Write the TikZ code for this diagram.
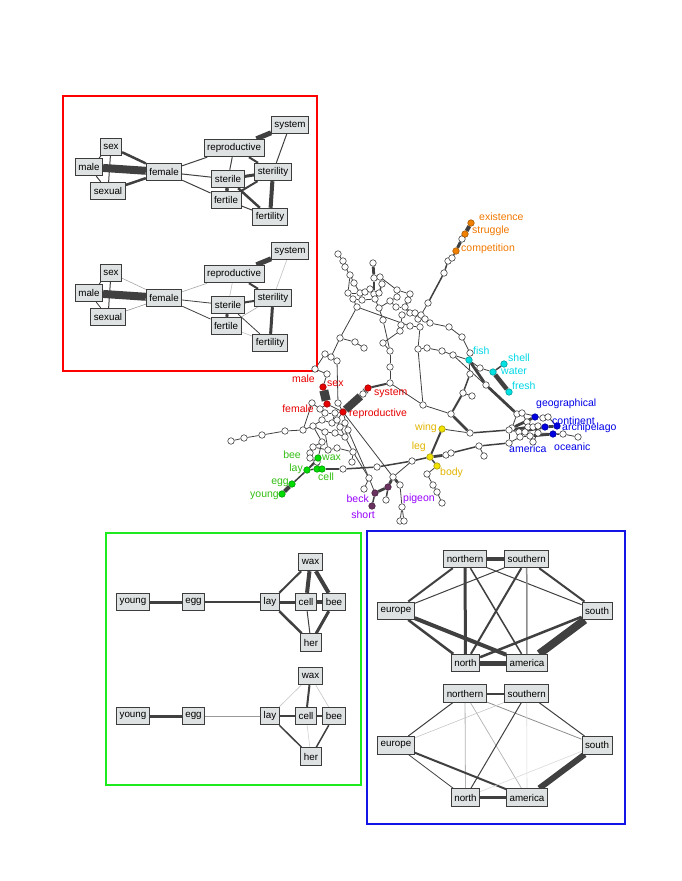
\documentclass[tikz,border=0pt]{standalone}
\usepackage{fontspec}
\setmainfont{Liberation Sans}
\usetikzlibrary{backgrounds, positioning}

\definecolor{boxfill}{RGB}{222,226,226}
\definecolor{boxline}{RGB}{60,60,60}
\definecolor{edgec}{RGB}{64,64,64}
\definecolor{redc}{RGB}{230,0,0}
\definecolor{orangec}{RGB}{240,120,0}
\definecolor{greenc}{RGB}{50,190,20}
\definecolor{goldc}{RGB}{225,180,0}
\definecolor{cyanc}{RGB}{0,215,230}
\definecolor{bluec}{RGB}{0,0,230}
\definecolor{purplec}{RGB}{150,0,255}
\definecolor{dotred}{RGB}{230,0,0}
\definecolor{dotorange}{RGB}{240,128,0}
\definecolor{dotgreen}{RGB}{0,220,0}
\definecolor{dotyellow}{RGB}{240,225,0}
\definecolor{dotcyan}{RGB}{0,225,225}
\definecolor{dotblue}{RGB}{0,0,225}
\definecolor{dotpurple}{RGB}{105,50,95}

\begin{document}
\begin{tikzpicture}[x=1pt, y=-1pt,
      wbox/.style={draw=boxline, fill=boxfill, line width=0.9pt, inner xsep=3pt,
                   minimum height=17.5pt, font=\fontsize{9.8}{10}\selectfont},
      dot/.style={circle, draw=edgec, fill=white, line width=0.6pt, inner sep=0pt, minimum size=6.5pt},
      cdot/.style={dot, fill=#1, draw=#1!70!black},
      lab/.style={text=#1, inner sep=0pt, font=\fontsize{10.5}{12}\selectfont},
      edge/.style={draw=edgec}]

    \useasboundingbox (0,0) rectangle (681,881);

    % === frames ===
    \draw[red, line width=2pt] (63,96) rectangle (317,371);
    \draw[green!90!black!70!green, draw={rgb,255:red,30;green,235;blue,30}, line width=2pt] (106,533) rectangle (361,785);
    \draw[draw={rgb,255:red,20;green,20;blue,230}, line width=2pt] (367,531) rectangle (625,824);

    % === sex / female / fertility (two copies) ===
    \foreach \k/\dy in {t/0, b/126} {
      \node[wbox] (\k sex) at (111,147+\dy) {sex};
      \node[wbox] (\k male) at (89,167+\dy) {male};
      \node[wbox] (\k sexual) at (108,191+\dy) {sexual};
      \node[wbox] (\k female) at (164,172+\dy) {female};
      \node[wbox] (\k repro) at (234,148+\dy) {reproductive};
      \node[wbox] (\k system) at (290,125+\dy) {system};
      \node[wbox] (\k sterile) at (228,179+\dy) {sterile};
      \node[wbox] (\k sterility) at (273,172+\dy) {sterility};
      \node[wbox] (\k fertile) at (226,200+\dy) {fertile};
      \node[wbox] (\k fertility) at (270,217+\dy) {fertility};
    }
    \begin{scope}[on background layer]
      \foreach \a/\b/\w/\c in {male/female/8/edgec, sex/female/2.5/edgec, sexual/female/2.5/edgec,
          sex/sexual/1/edgec, male/sex/1/edgec, male/sexual/1/edgec, female/repro/1/edgec,
          female/sterile/1/edgec, female/fertile/1/edgec, repro/system/5/edgec, repro/sterile/1/edgec,
          repro/sterility/2/edgec, system/sterility/1/edgec, sterile/sterility/3/edgec,
          sterile/fertile/3.5/edgec, sterile/fertility/2.5/edgec, fertile/sterility/2/edgec,
          fertile/fertility/1/edgec, sterility/fertility/4/edgec}
        \draw[line width=\w pt, draw=\c] (t\a) -- (t\b);
      \foreach \a/\b/\w/\c in {male/female/8/edgec, sex/female/0.6/gray!70, sexual/female/0.6/gray!80,
          sex/sexual/1/edgec, male/sex/0.8/edgec, male/sexual/0.8/edgec, female/repro/0.6/gray!70,
          female/sterile/0.8/edgec, female/fertile/0.8/edgec, repro/system/5/edgec, repro/sterile/0.6/gray!50,
          repro/sterility/2/edgec, system/sterility/0.6/gray!50, sterile/sterility/2/edgec,
          sterile/fertile/3/edgec, sterile/fertility/0.8/edgec, fertile/sterility/0.6/gray!70,
          fertile/fertility/0.6/gray!50, sterility/fertility/3/edgec}
        \draw[line width=\w pt, draw=\c] (b\a) -- (b\b);
    \end{scope}

    % === young / egg / bee (two copies) ===
    \foreach \k/\dy in {t/0, b/114} {
      \node[wbox] (\k young) at (133,602+\dy) {young};
      \node[wbox] (\k egg) at (193.5,602+\dy) {egg};
      \node[wbox] (\k lay) at (270,602+\dy) {lay};
      \node[wbox] (\k cell) at (306,602+\dy) {cell};
      \node[wbox] (\k bee) at (334,602+\dy) {bee};
      \node[wbox] (\k wax) at (310.5,562+\dy) {wax};
      \node[wbox] (\k her) at (311,642.5+\dy) {her};
    }
    \begin{scope}[on background layer]
      \foreach \a/\b/\w/\c in {young/egg/3/edgec, egg/lay/1.2/edgec, lay/cell/3/edgec, cell/bee/3.5/edgec,
          lay/wax/2/edgec, lay/her/2.5/edgec, wax/cell/4/edgec, wax/bee/4/edgec, cell/her/1/edgec,
          bee/her/3/edgec}
        \draw[line width=\w pt, draw=\c] (t\a) -- (t\b);
      \foreach \a/\b/\w/\c in {young/egg/3/edgec, egg/lay/0.8/gray!80, lay/cell/1.2/edgec, cell/bee/1.5/edgec,
          lay/wax/0.6/gray!45, lay/her/1.5/edgec, wax/cell/2/edgec, wax/bee/0.6/gray!45,
          cell/her/0.6/gray!35, bee/her/1.5/edgec}
        \draw[line width=\w pt, draw=\c] (b\a) -- (b\b);
    \end{scope}

    % === north / south / america (two copies) ===
    \foreach \k/\dy in {t/0, b/134.5} {
      \node[wbox] (\k northern) at (465,559+\dy) {northern};
      \node[wbox] (\k southern) at (526.7,559+\dy) {southern};
      \node[wbox] (\k europe) at (396,610.7+\dy) {europe};
      \node[wbox] (\k south) at (597,610.7+\dy) {south};
      \node[wbox] (\k north) at (465.5,663+\dy) {north};
      \node[wbox] (\k america) at (527,663+\dy) {america};
    }
    \begin{scope}[on background layer]
      \foreach \a/\b/\w/\c in {northern/southern/4/edgec, northern/europe/2/edgec, northern/north/3/edgec,
          northern/america/1.5/edgec, northern/south/1/edgec, southern/europe/1/edgec,
          southern/north/2/edgec, southern/america/1.5/gray!90, southern/south/2/edgec,
          europe/north/2.5/edgec, europe/america/4/edgec, north/south/2.5/edgec,
          north/america/5/edgec, america/south/8/edgec}
        \draw[line width=\w pt, draw=\c] (t\a) -- (t\b);
      \foreach \a/\b/\w/\c in {northern/southern/2/edgec, northern/europe/1/edgec, northern/north/0.8/gray!60,
          northern/america/0.7/gray!60, northern/south/0.8/gray!90, southern/europe/0.6/gray!45,
          southern/north/1/edgec, southern/america/0.6/gray!30, southern/south/1/edgec,
          europe/north/0.8/edgec, europe/america/2/edgec, north/south/0.6/gray!30,
          north/america/2.5/edgec, america/south/6/edgec}
        \draw[line width=\w pt, draw=\c] (b\a) -- (b\b);
    \end{scope}

    % === word network: plain nodes ===
    \foreach \nm/\x/\y in {u1/338/254, u2/343/261, u3/345/267, u4/350/275, u5/354/283, u6/373/263,
        u7/374/278, u8/380/277, u9/382/284, u10/348/293, u11/353/299, u12/357/307, u13/360/293,
        u14/365/292, u15/370/289, u16/374/294, u17/379/293, u18/362/300, u19/375/299, u20/379/308,
        u21/383/320, u22/397/290, u23/397/297, u24/390/301, u25/396/307, u26/410/294, u27/408/300,
        u28/405/307, u29/410/313, u30/402/315, u31/415/313, u32/418/319, u33/421/315, u34/425/319,
        u35/428/303, u36/430/323, u37/420/327, u38/410/326, u39/401/325, u40/400/331, u41/448/261,
        u42/444/273, u43/449/327, u44/340/338, u45/355/342, u46/364/348, u47/383/343, u48/390/351,
        u49/418/349, u50/427/348, u51/452/258, o3/462/239,
        f2/462/337, f3/470/353, f4/442/351, f5/453/355, f6/480/368, f7/486/385, f8/470/374,
        f9/463/393, f10/472/396, f11/451/414, f12/423/405, f13/470/433,
        a1/517/414, a2/522/413, a3/512/428, a4/509/430, a5/509/443, a6/519/432, a7/527/422,
        a8/528/427, a9/533/427, a10/538/426, a11/543/418, a12/548/417, a13/520/437, a14/530/436,
        a15/533/442, a16/538/433, a17/563/434, a18/578/437, a19/525/432,
        w1/390/383, w2/390/367, k1/343/469, k2/377/467, k3/412/461, r1/446/455, r2/451/453,
        r3/479/446, r4/484/456, b1/427/474, b2/433/485, b3/437/492, b4/442/503,
        p1/393/477, p2/400/485, p3/386/500, p4/402/507, p5/400/521, p6/404/521, p7/364/489,
        p8/369/478, sw/363/394,
        m1/315/369, m2/325/354, m3/331/357, m4/337/361, m5/327/374, m6/312/403, m7/320/409,
        m8/325/413, m9/335/413, m10/338/403, m15/313/426, m16/322/420, m17/332/423, m18/337/420,
        m19/340/427, m20/345/423, m21/348/430, m22/345/437, m23/335/433, m24/325/432, m25/322/442,
        m26/313/447, m27/328/450, m28/337/448, m29/353/452, m30/310/453, m31/310/458, m32/317/462,
        m33/352/462, l1/231/441, l2/244/438, l3/262/435, l4/285/431, l5/303/430}
      \node[dot] (\nm) at (\x,\y) {};

    % === word network: coloured nodes ===
    \foreach \nm/\x/\y/\c in {ex/471/223/dotorange, st/465/234/dotorange, co/456/251/dotorange,
        rmale/323/387/dotred, rfem/327/404/dotred, rrep/343/412/dotred, rsys/368/388/dotred,
        gbee/318/458/dotgreen, glay/307/470/dotgreen, gcell/317/469/dotgreen, gher/322/469/dotgreen,
        gegg/292/484/dotgreen, gyoung/282/494/dotgreen,
        wing/442/429/dotyellow, leg/430/457/dotyellow, body/437/466/dotyellow,
        fish/469/360/dotcyan, shell/504/364/dotcyan, water/493/372/dotcyan, fresh/509/392/dotcyan,
        geo/535/417/dotblue, amer/545/427/dotblue, con/557/426/dotblue, arc/553/434/dotblue,
        pig/388/487/dotpurple, beck/375/493/dotpurple, short/372/506/dotpurple}
      \node[cdot=\c] (\nm) at (\x,\y) {};

    \begin{scope}[on background layer]
      \foreach \a/\b in {u1/u2, u2/u3, u3/u4, u4/u5, u5/u13, u4/u10, u10/u11, u11/u12, u10/u13,
          u13/u14, u14/u15, u15/u16, u16/u17, u13/u18, u18/u19, u19/u20, u20/u21, u7/u8, u8/u9,
          u8/u22, u22/u23, u23/u24, u24/u25, u25/u28, u22/u26, u20/u24, u29/u30, u29/u31, u31/u33,
          u32/u34, u33/u34, u32/u37, u35/u33, u34/u36, u36/u43, u30/u39, u39/u40, u38/u37, u12/u38,
          u12/u44, u21/u48, u37/u49, u49/u50, u44/u45, u45/u46, u40/u47, u47/u48, u11/u18,
          u43/f2, f2/f3, f3/fish, u50/f4, f4/f5, f5/fish, fish/f6, f6/water, f5/a1, fish/f8,
          f9/f10, f12/f11, wing/f13, w1/f12, u49/f12,
          a1/a2, a1/a3, a2/a7, a3/a4, a4/a5, a4/a6, a6/a13, a13/a14, a14/a15, a7/a8, a8/a9,
          a11/a12, a12/con, a17/a18, arc/a17, a16/a17, a9/a16, a15/a16, a19/a14, a5/a13, a2/a11,
          b1/b2, b2/b3, b3/b4, body/b1, r3/r4, p2/p4, p4/p5, p4/p6, p7/p8, m29/p8, p8/beck,
          u44/m3, m2/m3, m3/m4, m1/m5, m5/rmale, m2/m1, rfem/rrep, rfem/m7, m6/m7, m7/m8, m8/m9,
          m9/rrep, m10/rrep, w1/w2, w2/u48, rrep/m21, m15/m16, m16/m17, m17/m18, m18/m19, m19/m20,
          m20/m21, m21/m22, m22/m23, m23/m24, m24/m15, m15/m25, m25/m26, m26/m27, m27/m28, m28/m29,
          m30/m31, m31/m32, m25/gbee, m17/m9, m18/rrep, m19/m22, m22/m29, m24/m27, m26/m30, m21/p8,
          m6/l5, l1/l2, l2/l3, l3/l4, l4/l5, l5/m15, m32/glay, m4/m10, m33/m29, rrep/p1, k3/p1}
        \draw[edge, line width=0.8pt] (\a) -- (\b);
      \foreach \a/\b in {u7/u16, u9/u17, u15/u19, u41/u42, u42/u35, u51/u41, co/u51, water/shell,
          f8/f9, f13/a4, gher/k1, k1/k2, k2/k3, k3/leg, leg/body, r1/r2, r2/r3, r3/a5, pig/p3,
          beck/short, a4/a9, gegg/glay, glay/gcell, glay/gbee}
        \draw[edge, line width=1.5pt] (\a) -- (\b);
      \foreach \a/\b in {wing/leg, rsys/w1, f9/f11}
        \draw[edge, line width=2pt] (\a) -- (\b);
      \foreach \a/\b in {u6/u7, u26/u27, u27/u28, u28/u29, fish/f7, f7/a1, f11/f13, leg/r1,
          gbee/gcell, gcell/gher, pig/beck, pig/p1, p1/p2, a3/geo, a4/a10, a6/amer, amer/con, a14/arc}
        \draw[edge, line width=2.8pt] (\a) -- (\b);
      \foreach \a/\b/\w in {ex/st/4, st/o3/4, o3/co/3, water/fresh/4.5, gyoung/gegg/4,
          rmale/rfem/9, rrep/sw/8, sw/rsys/7}
        \draw[edge, line width=\w pt] (\a) -- (\b);
    \end{scope}

    % === word labels ===
    \node[lab=orangec, anchor=west] (lex) at ([shift={(8,-6)}]ex) {existence};
    \node[lab=orangec, anchor=west] (lst) at ([shift={(7,-3)}]st) {struggle};
    \node[lab=orangec, anchor=west] (lco) at ([shift={(5,-2)}]co) {competition};
    \node[lab=redc, anchor=east] (lmale) at ([shift={(-8,-8)}]rmale) {male};
    \node[lab=redc, anchor=west] (lsex) at ([shift={(4,-3)}]rmale) {sex};
    \node[lab=redc, anchor=east] (lfem) at ([shift={(-13,5)}]rfem) {female};
    \node[lab=redc, anchor=west] (lrep) at ([shift={(6,2)}]rrep) {reproductive};
    \node[lab=redc, anchor=west] (lsys) at ([shift={(6,5)}]rsys) {system};
    \node[lab=goldc, anchor=east] (lwing) at ([shift={(-5,-1)}]wing) {wing};
    \node[lab=goldc, anchor=east] (lleg) at ([shift={(-4,-10)}]leg) {leg};
    \node[lab=goldc, anchor=west] (lbody) at ([shift={(3,7)}]body) {body};
    \node[lab=cyanc, anchor=west] (lfish) at ([shift={(4,-9)}]fish) {fish};
    \node[lab=cyanc, anchor=west] (lshell) at ([shift={(4,-6)}]shell) {shell};
    \node[lab=cyanc, anchor=west] (lwater) at ([shift={(8,-1)}]water) {water};
    \node[lab=cyanc, anchor=west] (lfresh) at ([shift={(3,-6)}]fresh) {fresh};
    \node[lab=bluec, anchor=west] (lgeo) at ([shift={(1,-13)}]geo) {geographical};
    \node[lab=bluec, anchor=west] (lcon) at ([shift={(-5,-5)}]con) {continent};
    \node[lab=bluec, anchor=west] (larc) at ([shift={(9,-6)}]arc) {archipelago};
    \node[lab=bluec, anchor=west] (lamer) at ([shift={(-36,22)}]amer) {america};
    \node[lab=bluec, anchor=west] (locean) at ([shift={(1,13)}]arc) {oceanic};
    \node[lab=greenc, anchor=east] (lbee) at ([shift={(-17,-3)}]gbee) {bee};
    \node[lab=greenc, anchor=west] (lwax) at ([shift={(4,0)}]gbee) {wax};
    \node[lab=greenc, anchor=east] (llay) at ([shift={(-4,-1)}]glay) {lay};
    \node[lab=greenc, anchor=west] (lcell) at ([shift={(1,8)}]gcell) {cell};
    \node[lab=greenc, anchor=east] (legg) at ([shift={(-3,-1)}]gegg) {egg};
    \node[lab=greenc, anchor=east] (lyoung) at ([shift={(-3,2)}]gyoung) {young};
    \node[lab=purplec, anchor=east] (lbeck) at ([shift={(-6,6)}]beck) {beck};
    \node[lab=purplec, anchor=north] (lshort) at ([shift={(-9,5)}]short) {short};
    \node[lab=purplec, anchor=west] (lpig) at ([shift={(15,12)}]pig) {pigeon};

\end{tikzpicture}
\end{document}
